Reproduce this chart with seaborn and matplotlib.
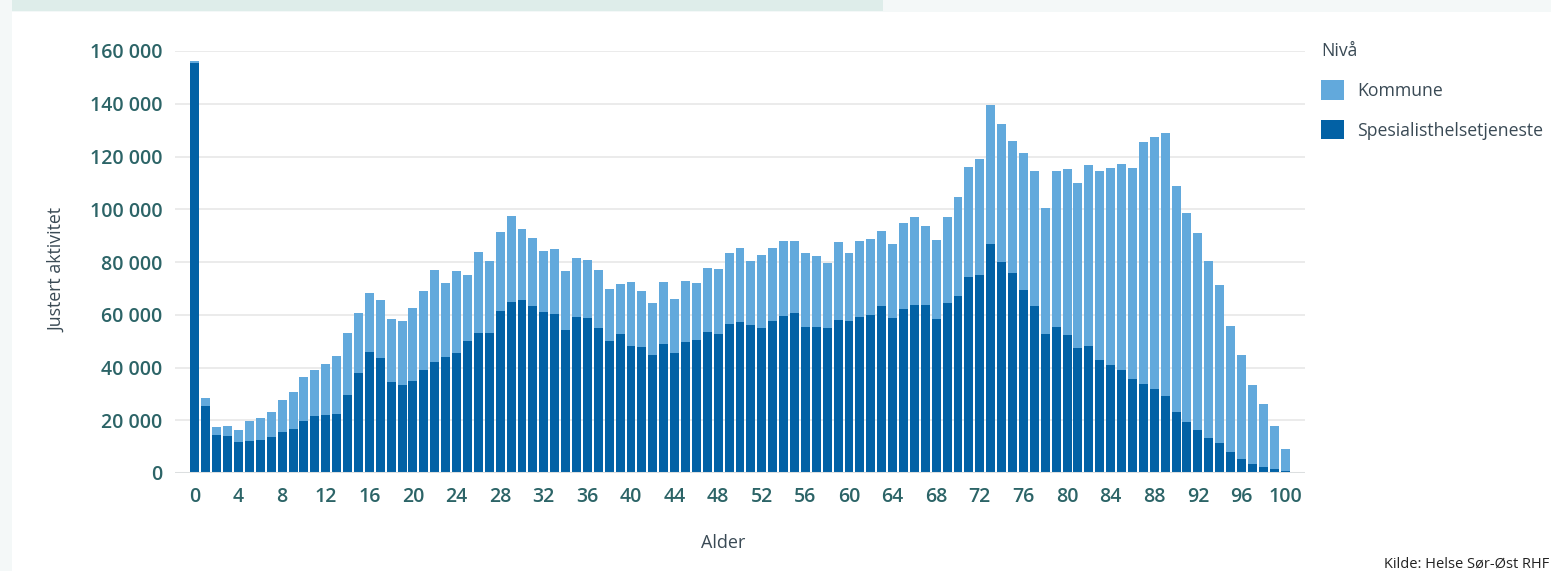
import matplotlib
matplotlib.use("Agg")
import matplotlib.pyplot as plt
import matplotlib.patches as mpatches
import seaborn as sns
import pandas as pd

ages = list(range(0, 101))

spesialist = [
    155500, 25300, 14290, 13920, 11640, 12020, 12400, 13540, 15430, 16570,
    19610, 21500, 21880, 22260, 29470, 37820, 45790, 43520, 34410, 33270,
    34790, 38960, 42000, 43900, 45410, 49970, 53000, 53000, 61350, 64770,
    65530, 63250, 60970, 60210, 54140, 59190, 58700, 54900, 49970, 52620,
    48070, 47690, 44650, 48830, 45410, 49590, 50350, 53380, 52620, 56420,
    57180, 56040, 54900, 57560, 59460, 60590, 55280, 55280, 54900, 57940,
    57560, 59080, 59840, 63250, 58700, 62110, 63630, 63630, 58320, 64390,
    67050, 74260, 75010, 86780, 79950, 75770, 69320, 63250, 52620, 55280,
    52240, 47310, 48070, 42760, 40860, 38960, 35550, 33650, 31750, 29100,
    23020, 19230, 16190, 13160, 11260, 7840, 5190, 3290, 2150, 1390,
    630,
]

kommune = [
    700, 3040, 3040, 3790, 4550, 7590, 8350, 9480, 12150, 14040,
    16700, 17460, 19360, 22020, 23530, 22770, 22390, 22010, 23910, 24290,
    27700, 29980, 34910, 28080, 31120, 25040, 30740, 27330, 29980, 32630,
    26940, 25810, 23150, 24670, 22390, 22280, 22010, 22010, 19730, 18980,
    24290, 21250, 19740, 23530, 20500, 23150, 21630, 24290, 24670, 26940,
    28080, 24290, 27700, 27700, 28460, 27330, 28080, 26950, 24670, 29600,
    25800, 28840, 28840, 28460, 28080, 32640, 33400, 29980, 29980, 32640,
    37570, 41620, 44030, 52750, 52370, 50100, 52000, 51230, 47820, 59200,
    63000, 62620, 68690, 71720, 74760, 78180, 80070, 91840, 95640, 99800,
    85770, 79320, 74770, 67170, 59960, 47820, 39460, 29980, 23910, 16320,
    8350,
]

series_names = ["Kommune", "Spesialisthelsetjeneste"]
colors = {"Kommune": "#62A9DC", "Spesialisthelsetjeneste": "#0261A5"}
x_ticks = list(range(0, 101, 4))
y_ticks = list(range(0, 160001, 20000))

df = pd.DataFrame({"Alder": ages, "Spes": spesialist, "Kommune": kommune})
df["Total"] = df["Spes"] + df["Kommune"]

sns.set_theme(style="white")
plt.rcParams["font.family"] = ["Open Sans", "DejaVu Sans"]

fig = plt.figure(figsize=(15.51, 5.71), dpi=100)
fig.patch.set_facecolor("#F4F8F8")
# white panel and cut-off title band
fig.patches.append(mpatches.Rectangle((12 / 1551, 0), 1 - 12 / 1551, 1 - 12 / 571,
                                      transform=fig.transFigure, facecolor="white",
                                      edgecolor="none", zorder=-10))
fig.patches.append(mpatches.Rectangle((12 / 1551, 1 - 11 / 571), (883 - 12) / 1551, 11 / 571,
                                      transform=fig.transFigure, facecolor="#DEEDEA",
                                      edgecolor="none", zorder=-9))

ax = fig.add_axes([175 / 1551, 1 - 473 / 571, (1305 - 175) / 1551, (473 - 51) / 571])
ax.set_facecolor("white")

order = ages
sns.barplot(data=df, x="Alder", y="Total", order=order, color=colors["Kommune"],
            width=0.82, saturation=1, linewidth=0, edgecolor="none", ax=ax, zorder=3)
sns.barplot(data=df, x="Alder", y="Spes", order=order, color=colors["Spesialisthelsetjeneste"],
            width=0.82, saturation=1, linewidth=0, edgecolor="none", ax=ax, zorder=4)

ax.set_xlim(-1.83, 101.83)
ax.set_ylim(0, 160000)
ax.set_yticks(y_ticks)
ax.set_yticklabels([f"{v:,}".replace(",", " ") for v in y_ticks])
ax.set_xticks(x_ticks)
ax.set_xticklabels([str(v) for v in x_ticks])

for s in ax.spines.values():
    s.set_visible(False)
ax.yaxis.grid(True, color="#E8E8E8", linewidth=1.2, zorder=0)
ax.set_axisbelow(True)
ax.axhline(0, color="#DCDFE0", linewidth=2.2, zorder=5)

tick_color = "#2C6467"
ax.tick_params(axis="both", length=0, colors=tick_color, labelsize=14)
ax.tick_params(axis="x", pad=10)
ax.tick_params(axis="y", pad=9)
for lbl in ax.get_xticklabels() + ax.get_yticklabels():
    lbl.set_fontweight("semibold")

label_color = "#3A4A55"
ax.set_xlabel("Alder", fontsize=13, color=label_color)
ax.set_ylabel("Justert aktivitet", fontsize=12.8, color=label_color)
ax.xaxis.label.set_verticalalignment("center")
ax.yaxis.label.set_verticalalignment("center")
ax.xaxis.set_label_coords((723 - 175) / 1130, (473 - 543) / 422)
ax.yaxis.set_label_coords((57 - 175) / 1130, (473 - 270) / 422)

handles = [mpatches.Patch(facecolor=colors[n], edgecolor="none", label=n) for n in series_names]
leg = fig.legend(handles=handles, title="Nivå", loc="upper left",
                 bbox_to_anchor=(1314 / 1551, 1 - 35 / 571), frameon=False,
                 fontsize=12.7, title_fontsize=12.7, handlelength=1.3, handleheight=1.3,
                 labelspacing=1.15, handletextpad=0.75, borderaxespad=0, alignment="left")
for t in leg.get_texts():
    t.set_color(label_color)
leg.get_title().set_color(label_color)

fig.text(1549 / 1551, 1 - 564 / 571, "Kilde: Helse Sør-Øst RHF", fontsize=10.5,
         color="#222222", ha="right", va="center")

fig.savefig("out.png", dpi=100, facecolor=fig.get_facecolor())
